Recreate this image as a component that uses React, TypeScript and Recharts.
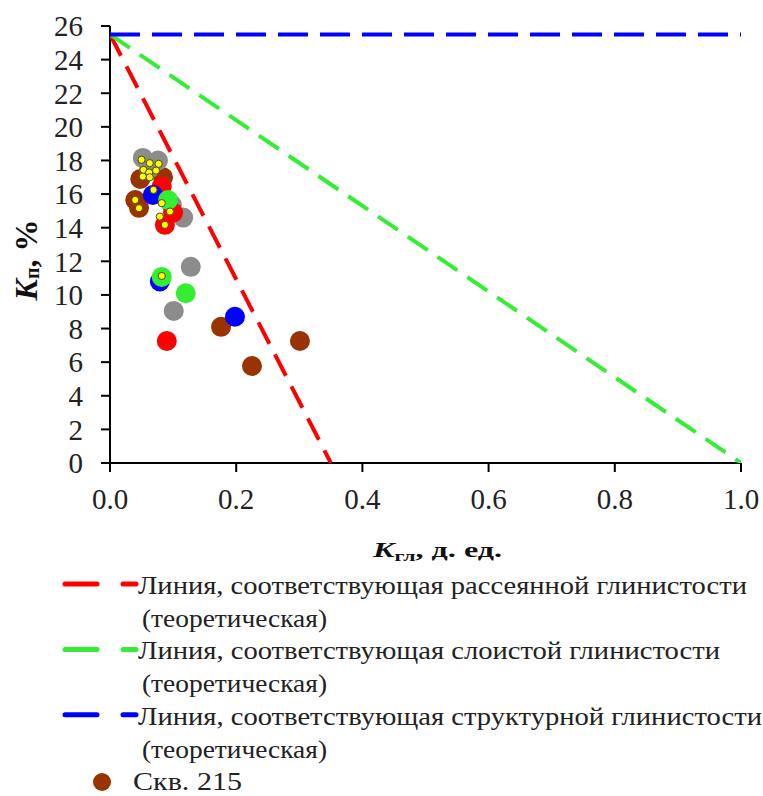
import React from "react";
import { ScatterChart, Scatter, XAxis, YAxis } from "recharts";

// axis ticks
const xTicks = [0, 0.2, 0.4, 0.6, 0.8, 1.0];
const yTicks = [0, 2, 4, 6, 8, 10, 12, 14, 16, 18, 20, 22, 24, 26];

// theoretical lines
const dispersedLine = [
  { x: 0, y: 25.5 },
  { x: 0.35, y: 0 },
];
const laminarLine = [
  { x: 0, y: 25.5 },
  { x: 1, y: 0 },
];
const structuralLine = [
  { x: 0, y: 25.5 },
  { x: 1, y: 25.5 },
];

// wells
const well215 = [
  { x: 0.301, y: 7.26 },
  { x: 0.225, y: 5.77 },
  { x: 0.176, y: 8.1 },
  { x: 0.04, y: 15.65 },
  { x: 0.046, y: 15.18 },
  { x: 0.048, y: 16.9 },
  { x: 0.084, y: 17.0 },
];
const grayWell = [
  { x: 0.128, y: 11.67 },
  { x: 0.101, y: 9.05 },
  { x: 0.052, y: 18.15 },
  { x: 0.076, y: 18.0 },
  { x: 0.062, y: 17.5 },
  { x: 0.116, y: 14.6 },
  { x: 0.098, y: 15.36 },
];
const redWell = [
  { x: 0.09, y: 7.26 },
  { x: 0.082, y: 16.45 },
  { x: 0.1, y: 14.9 },
  { x: 0.087, y: 14.17 },
];
const blueWell = [
  { x: 0.198, y: 8.7 },
  { x: 0.079, y: 10.8 },
  { x: 0.068, y: 15.95 },
];
const greenWell = [
  { x: 0.082, y: 11.07 },
  { x: 0.12, y: 10.1 },
  { x: 0.092, y: 15.65 },
];
const yellowWell = [
  { x: 0.05, y: 18.04 },
  { x: 0.063, y: 17.84 },
  { x: 0.077, y: 17.8 },
  { x: 0.053, y: 17.44 },
  { x: 0.062, y: 17.28 },
  { x: 0.073, y: 17.4 },
  { x: 0.052, y: 17.04 },
  { x: 0.063, y: 17.0 },
  { x: 0.069, y: 16.25 },
  { x: 0.04, y: 15.65 },
  { x: 0.046, y: 15.16 },
  { x: 0.082, y: 15.46 },
  { x: 0.095, y: 14.96 },
  { x: 0.079, y: 14.66 },
  { x: 0.087, y: 14.17 },
  { x: 0.082, y: 11.13 },
];

const legendLines = [
  { color: "#ff0000", text: "Линия, соответствующая рассеянной глинистости", width: 609 },
  { color: "#33ee33", text: "Линия, соответствующая слоистой глинистости", width: 582 },
  { color: "#0000ff", text: "Линия, соответствующая структурной глинистости", width: 624 },
];

const SERIF = '"Liberation Serif"';

const bigDot = (fill: string) => (props: any) =>
  <circle cx={props.cx} cy={props.cy} r={10} fill={fill} />;

const smallDot = (props: any) => (
  <circle cx={props.cx} cy={props.cy} r={3.6} fill="#ffff00" stroke="#4a4a10" strokeWidth={1} />
);

const noDot = () => <g />;

const XTitle = (props: any) => {
  const { viewBox } = props;
  return (
    <text
      x={viewBox.x + 263}
      y={557}
      style={{ fontFamily: SERIF, fontWeight: 700, fontSize: 22 }}
      fill="#111"
      textLength={129}
      lengthAdjust="spacingAndGlyphs"
    >
      <tspan fontStyle="italic">K</tspan>
      <tspan fontSize={15} dy={4}>гл</tspan>
      <tspan dy={-4}>, д. ед.</tspan>
    </text>
  );
};

const YTitle = () => (
  <text
    x={37}
    y={260}
    transform="rotate(-90, 37, 260)"
    textAnchor="middle"
    style={{ fontFamily: SERIF, fontWeight: 700, fontSize: 32 }}
    fill="#111"
  >
    <tspan fontStyle="italic">K</tspan>
    <tspan fontSize={20} dy={2}>п</tspan>
    <tspan dy={-2}>, %</tspan>
  </text>
);

const legendFont = { fontFamily: SERIF, fontSize: 26 };

// legend drawn below the chart, same coordinates as the page
const LegendBox = () => {
  const base = 594;
  const step = 32.7;
  return (
    <svg width={763} height={226} style={{ position: "absolute", left: 0, top: 570 }}>
      {legendLines.map((l, i) => {
        const y1 = base + step * 2 * i - 570;
        return (
          <g key={l.text}>
            <line x1={65} x2={97} y1={y1 - 10} y2={y1 - 10} stroke={l.color} strokeWidth={5} strokeLinecap="round" />
            <line x1={123} x2={136} y1={y1 - 10} y2={y1 - 10} stroke={l.color} strokeWidth={5} strokeLinecap="round" />
            <text x={138} y={y1} style={legendFont} fill="#222" textLength={l.width} lengthAdjust="spacingAndGlyphs">
              {l.text}
            </text>
            <text x={142} y={y1 + step} style={legendFont} fill="#222" textLength={185} lengthAdjust="spacingAndGlyphs">
              (теоретическая)
            </text>
          </g>
        );
      })}
      <circle cx={102} cy={782 - 570} r={9} fill="#993300" />
      <text x={133} y={790 - 570} style={legendFont} fill="#222" textLength={109} lengthAdjust="spacingAndGlyphs">
        Скв. 215
      </text>
    </svg>
  );
};

export default function App() {
  const axisStroke = { stroke: "#000", strokeWidth: 2 };
  const tickStyle = { fontSize: 29, fill: "#222", style: { fontFamily: SERIF } };
  return (
    <div style={{ width: 763, height: 796, position: "relative", background: "#fff" }}>
      <style>{"body{margin:0}"}</style>
      <ScatterChart width={763} height={580} margin={{ top: 26, right: 22, left: 0, bottom: 57 }}>
        <XAxis
          type="number"
          dataKey="x"
          domain={[0, 1]}
          ticks={xTicks}
          interval={0}
          tickFormatter={(v: number) => v.toFixed(1)}
          tickSize={9}
          tickMargin={16}
          axisLine={axisStroke}
          tickLine={axisStroke}
          tick={tickStyle}
          height={60}
          allowDataOverflow
          label={{ content: XTitle }}
        />
        <YAxis
          type="number"
          dataKey="y"
          domain={[0, 26]}
          ticks={yTicks}
          interval={0}
          tickSize={9}
          tickMargin={18}
          axisLine={axisStroke}
          tickLine={axisStroke}
          tick={tickStyle}
          width={110}
          allowDataOverflow
          label={{ content: YTitle }}
        />
        <Scatter name="Скв. 215" data={well215} shape={bigDot("#993300")} isAnimationActive={false} />
        <Scatter name="Скв. 2" data={grayWell} shape={bigDot("#8c8c8c")} isAnimationActive={false} />
        <Scatter name="Скв. 3" data={redWell} shape={bigDot("#ff0000")} isAnimationActive={false} />
        <Scatter name="Скв. 4" data={blueWell} shape={bigDot("#0000ff")} isAnimationActive={false} />
        <Scatter name="Скв. 5" data={greenWell} shape={bigDot("#33ee33")} isAnimationActive={false} />
        <Scatter name="Скв. 6" data={yellowWell} shape={smallDot} isAnimationActive={false} />
        <Scatter
          name="Рассеянная"
          data={dispersedLine}
          shape={noDot}
          line={{ stroke: "#ff0000", strokeWidth: 4, strokeDasharray: "24 12" }}
          isAnimationActive={false}
        />
        <Scatter
          name="Слоистая"
          data={laminarLine}
          shape={noDot}
          line={{ stroke: "#33ee33", strokeWidth: 4, strokeDasharray: "24 12" }}
          isAnimationActive={false}
        />
        <Scatter
          name="Структурная"
          data={structuralLine}
          shape={noDot}
          line={{ stroke: "#0000ff", strokeWidth: 4, strokeDasharray: "30 12" }}
          isAnimationActive={false}
        />
      </ScatterChart>
      <LegendBox />
    </div>
  );
}
